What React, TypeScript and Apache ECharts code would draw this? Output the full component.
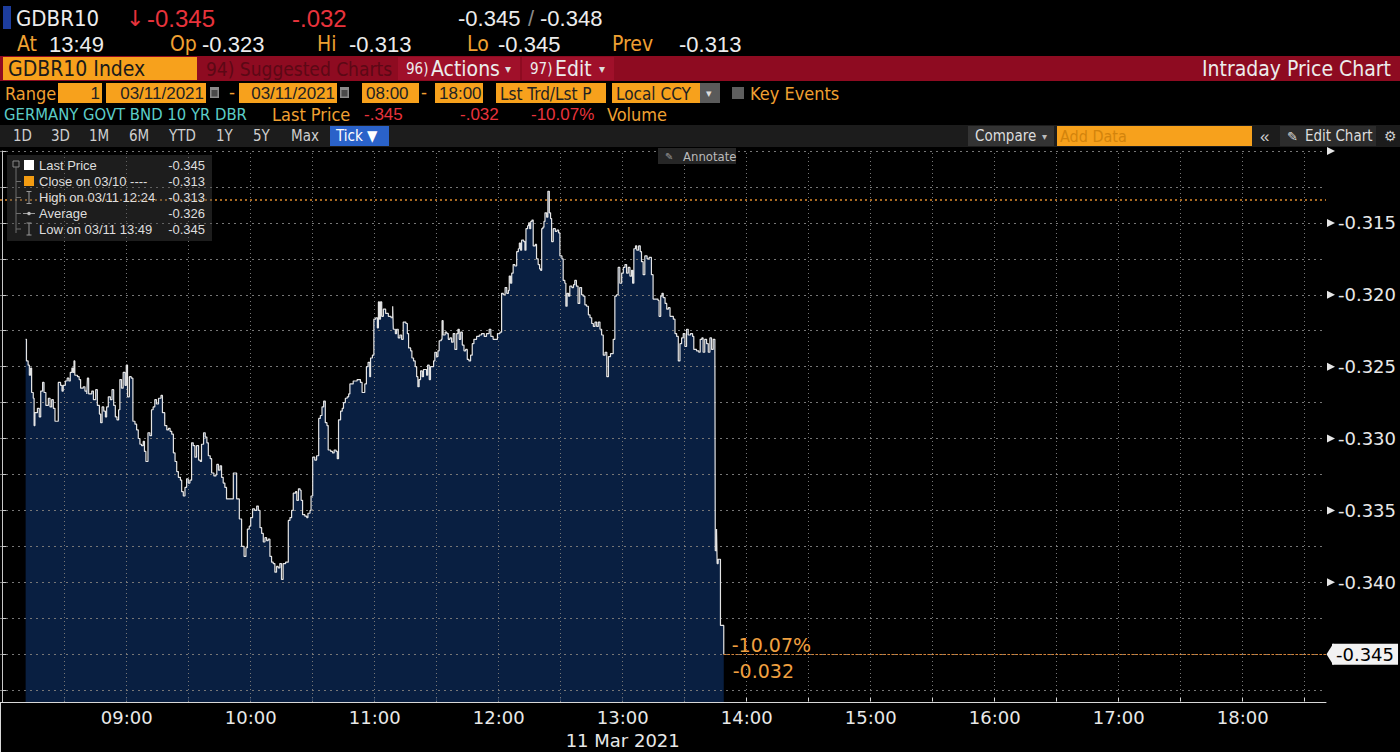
import React, { useEffect, useRef } from "react";
import * as echarts from "echarts";

// ---------- data ----------
const sessionDate = "11 Mar 2021";
// [minutes after 08:00, yield %]
const yieldTicks: [number, number][] = [
  [11.1,-0.3231],[11.5,-0.3246],[12.3,-0.3249],[12.9,-0.3256],[13.5,-0.3251],[14.0,-0.3268],[14.8,-0.3272],[15.2,-0.3291],[15.6,-0.3282],[16.8,-0.3279],
  [17.7,-0.3285],[18.4,-0.3267],[19.3,-0.3261],[20.0,-0.3268],[20.9,-0.3277],[22.1,-0.3272],[22.9,-0.3278],[23.7,-0.3273],[24.5,-0.3279],[25.3,-0.3288],
  [26.9,-0.3261],[28.0,-0.3263],[28.7,-0.3267],[29.3,-0.3263],[30.3,-0.3260],[31.2,-0.3258],[32.0,-0.3260],[32.7,-0.3254],[33.5,-0.3251],[34.0,-0.3254],
  [34.5,-0.3246],[34.9,-0.3256],[36.2,-0.3257],[37.0,-0.3259],[37.7,-0.3265],[39.0,-0.3264],[39.8,-0.3267],[40.7,-0.3269],[41.0,-0.3258],[41.6,-0.3269],
  [43.1,-0.3267],[43.9,-0.3273],[45.0,-0.3266],[45.8,-0.3277],[46.8,-0.3283],[47.4,-0.3289],[48.1,-0.3278],[48.9,-0.3281],[49.7,-0.3285],[50.3,-0.3278],
  [51.1,-0.3271],[52.1,-0.3273],[52.9,-0.3266],[53.7,-0.3277],[54.5,-0.3285],[55.3,-0.3287],[56.1,-0.3280],[56.7,-0.3259],[57.5,-0.3265],[58.3,-0.3254],
  [59.2,-0.3263],[59.8,-0.3249],[60.4,-0.3271],[61.3,-0.3257],[62.2,-0.3258],[63.0,-0.3288],[64.0,-0.3290],[64.8,-0.3294],[65.6,-0.3300],[66.4,-0.3304],
  [67.2,-0.3305],[68.0,-0.3302],[68.6,-0.3309],[69.3,-0.3316],[70.3,-0.3296],[71.2,-0.3298],[72.0,-0.3280],[72.8,-0.3278],[73.6,-0.3273],[74.4,-0.3276],
  [75.4,-0.3272],[76.6,-0.3270],[77.3,-0.3282],[78.4,-0.3291],[79.4,-0.3294],[80.2,-0.3293],[81.0,-0.3295],[81.8,-0.3297],[82.6,-0.3310],[83.4,-0.3316],
  [84.2,-0.3323],[85.0,-0.3327],[86.0,-0.3329],[86.6,-0.3337],[87.4,-0.3340],[88.2,-0.3334],[89.0,-0.3328],[89.8,-0.3331],[90.6,-0.3329],[91.4,-0.3303],
  [92.2,-0.3305],[93.0,-0.3313],[93.8,-0.3305],[94.8,-0.3315],[95.6,-0.3316],[96.2,-0.3304],[97.2,-0.3296],[98.0,-0.3299],[98.8,-0.3303],[99.5,-0.3312],
  [100.4,-0.3314],[101.1,-0.3324],[102.2,-0.3326],[103.2,-0.3325],[103.6,-0.3318],[104.4,-0.3322],[105.2,-0.3319],[105.9,-0.3327],[106.7,-0.3331],[107.5,-0.3334],
  [108.3,-0.3342],[111.6,-0.3324],[113.2,-0.3342],[114.5,-0.3356],[115.6,-0.3375],[116.8,-0.3382],[117.7,-0.3376],[118.4,-0.3363],[119.3,-0.3361],[120.0,-0.3355],
  [120.9,-0.3349],[121.9,-0.3350],[122.9,-0.3347],[123.7,-0.3350],[124.5,-0.3362],[125.3,-0.3366],[126.1,-0.3372],[126.9,-0.3369],[127.7,-0.3371],[128.5,-0.3370],
  [129.3,-0.3382],[130.1,-0.3386],[130.9,-0.3387],[131.7,-0.3393],[132.5,-0.3389],[133.3,-0.3390],[134.1,-0.3387],[134.9,-0.3398],[135.7,-0.3387],[136.9,-0.3386],
  [138.2,-0.3357],[139.0,-0.3355],[139.8,-0.3350],[140.6,-0.3338],[141.7,-0.3337],[142.3,-0.3343],[143.1,-0.3335],[143.9,-0.3336],[144.4,-0.3343],[145.1,-0.3353],
  [146.2,-0.3354],[147.1,-0.3355],[147.7,-0.3352],[148.7,-0.3350],[149.2,-0.3340],[150.0,-0.3313],[151.0,-0.3315],[151.9,-0.3312],[152.9,-0.3286],[153.7,-0.3284],
  [154.5,-0.3278],[155.3,-0.3274],[156.1,-0.3289],[156.9,-0.3291],[157.5,-0.3308],[158.7,-0.3309],[159.6,-0.3310],[160.4,-0.3308],[161.3,-0.3309],[161.9,-0.3314],
  [162.5,-0.3287],[163.5,-0.3281],[164.3,-0.3279],[164.9,-0.3275],[165.8,-0.3272],[166.7,-0.3271],[167.4,-0.3269],[168.0,-0.3262],[169.6,-0.3260],[171.5,-0.3259],
  [173.1,-0.3261],[173.9,-0.3268],[175.2,-0.3262],[176.0,-0.3250],[176.8,-0.3247],[177.6,-0.3257],[178.0,-0.3244],[178.9,-0.3242],[179.6,-0.3217],[180.5,-0.3216],
  [181.3,-0.3223],[181.8,-0.3205],[182.3,-0.3217],[182.8,-0.3205],[183.4,-0.3215],[184.2,-0.3210],[185.3,-0.3213],[186.6,-0.3215],[187.9,-0.3216],[188.7,-0.3208],
  [189.0,-0.3224],[190.0,-0.3227],[190.6,-0.3224],[191.4,-0.3230],[192.2,-0.3228],[193.0,-0.3231],[193.8,-0.3219],[195.1,-0.3220],[195.8,-0.3227],[196.4,-0.3237],
  [197.4,-0.3239],[198.0,-0.3244],[198.8,-0.3246],[199.6,-0.3250],[200.3,-0.3257],[200.9,-0.3264],[201.5,-0.3259],[202.2,-0.3253],[203.0,-0.3257],[203.6,-0.3252],
  [205.1,-0.3256],[205.6,-0.3249],[206.4,-0.3259],[207.0,-0.3250],[208.5,-0.3246],[209.1,-0.3240],[209.9,-0.3243],[210.6,-0.3239],[211.2,-0.3232],[212.2,-0.3231],
  [212.6,-0.3218],[213.1,-0.3228],[214.1,-0.3226],[214.9,-0.3227],[215.6,-0.3231],[216.4,-0.3230],[217.2,-0.3233],[218.0,-0.3227],[218.8,-0.3238],[219.7,-0.3227],
  [220.3,-0.3224],[220.9,-0.3231],[221.6,-0.3226],[222.4,-0.3235],[223.2,-0.3239],[224.0,-0.3238],[224.8,-0.3245],[225.6,-0.3246],[226.4,-0.3242],[227.2,-0.3234],
  [228.0,-0.3231],[229.3,-0.3229],[230.6,-0.3228],[231.7,-0.3227],[233.0,-0.3229],[234.1,-0.3227],[235.4,-0.3224],[236.2,-0.3229],[237.3,-0.3231],[239.4,-0.3227],
  [240.6,-0.3226],[241.4,-0.3199],[242.2,-0.3200],[243.1,-0.3195],[243.9,-0.3199],[244.7,-0.3197],[245.1,-0.3187],[245.7,-0.3192],[246.3,-0.3185],[247.0,-0.3179],
  [247.8,-0.3180],[248.7,-0.3170],[249.5,-0.3168],[250.0,-0.3164],[250.6,-0.3169],[251.1,-0.3162],[252.1,-0.3163],[252.7,-0.3169],[253.2,-0.3154],[254.0,-0.3152],
  [254.5,-0.3150],[255.0,-0.3154],[255.5,-0.3149],[256.1,-0.3148],[256.7,-0.3166],[257.7,-0.3165],[258.3,-0.3175],[259.1,-0.3179],[259.8,-0.3182],[260.3,-0.3183],
  [260.8,-0.3154],[261.4,-0.3153],[261.9,-0.3149],[262.4,-0.3143],[263.2,-0.3146],[263.8,-0.3128],[264.5,-0.3143],[265.1,-0.3147],[265.6,-0.3163],[266.4,-0.3154],
  [267.4,-0.3156],[268.2,-0.3155],[269.0,-0.3157],[269.6,-0.3173],[270.6,-0.3175],[271.2,-0.3190],[272.0,-0.3192],[272.5,-0.3208],[273.1,-0.3199],[273.8,-0.3201],
  [274.4,-0.3194],[275.4,-0.3195],[276.2,-0.3193],[276.8,-0.3190],[277.6,-0.3194],[278.4,-0.3206],[279.2,-0.3195],[280.1,-0.3200],[280.9,-0.3201],[281.7,-0.3207],
  [282.5,-0.3208],[283.4,-0.3214],[284.2,-0.3216],[285.0,-0.3220],[285.8,-0.3222],[286.6,-0.3219],[287.4,-0.3222],[288.2,-0.3219],[289.0,-0.3224],[289.8,-0.3228],
  [290.6,-0.3242],[291.5,-0.3240],[292.3,-0.3257],[293.1,-0.3243],[294.1,-0.3241],[295.4,-0.3231],[296.2,-0.3201],[297.0,-0.3200],[297.8,-0.3181],[298.6,-0.3192],
  [299.5,-0.3185],[300.3,-0.3181],[301.1,-0.3179],[301.9,-0.3185],[302.7,-0.3181],[303.5,-0.3187],[304.3,-0.3183],[304.8,-0.3192],[305.4,-0.3168],[306.2,-0.3166],
  [306.8,-0.3169],[307.7,-0.3166],[308.5,-0.3170],[309.1,-0.3177],[309.9,-0.3186],[310.7,-0.3173],[311.8,-0.3175],[312.8,-0.3174],[313.9,-0.3186],[314.7,-0.3203],
  [317.1,-0.3204],[317.6,-0.3215],[318.4,-0.3201],[319.0,-0.3199],[319.6,-0.3202],[320.5,-0.3206],[321.3,-0.3210],[322.1,-0.3209],[322.9,-0.3215],[324.5,-0.3217],
  [325.3,-0.3227],[326.1,-0.3229],[326.9,-0.3246],[327.7,-0.3234],[328.5,-0.3230],[329.3,-0.3227],[330.1,-0.3236],[330.9,-0.3224],[331.7,-0.3228],[332.8,-0.3227],
  [333.8,-0.3229],[334.4,-0.3238],[335.7,-0.3239],[336.8,-0.3240],[337.5,-0.3231],[338.3,-0.3230],[338.9,-0.3240],[339.7,-0.3231],[340.6,-0.3234],[341.4,-0.3240],
  [342.2,-0.3230],[343.0,-0.3238],[343.8,-0.3231],[344.6,-0.3234],[344.8,-0.3378],[345.4,-0.3363],[345.7,-0.3387],[346.2,-0.3384],[347.3,-0.3430],[348.9,-0.3450],
];
const prevClose = -0.3134;
const lastPrice = -0.345;
const netChangeText = "-0.032";
const pctChangeText = "-10.07%";
const xTickTimes = ["08:30","09:00","09:30","10:00","10:30","11:00","11:30","12:00","12:30","13:00","13:30","14:00","14:30","15:00","15:30","16:00","16:30","17:00","17:30","18:00","18:30"];
const xLabelTimes = ["09:00","10:00","11:00","12:00","13:00","14:00","15:00","16:00","17:00","18:00"];
const dateUnderTime = "13:00";
const yTickValues = [-0.3475,-0.345,-0.3425,-0.34,-0.3375,-0.335,-0.3325,-0.33,-0.3275,-0.325,-0.3225,-0.32,-0.3175,-0.315,-0.3125,-0.31];
const yLabelValues = [-0.34,-0.335,-0.33,-0.325,-0.32,-0.315];
const yMarkerValues = [-0.34,-0.335,-0.33,-0.325,-0.32,-0.315,-0.31];
const legendLabels = ["Last Price","Close on 03/10 ----","High on 03/11 12:24","Average","Low on 03/11 13:49"];
const legendValues = ["-0.345","-0.313","-0.313","-0.326","-0.345"];

const X_MIN = -1.3;
const X_MAX = 640.3;
const Y_MIN = -0.34833;
const Y_MAX = -0.31;

// ---------- styling ----------
const FN = "'Liberation Sans Narrow','DejaVu Sans Condensed','Liberation Sans',sans-serif";
const FD = "'Liberation Sans',Arial,sans-serif";
const FA = "'DejaVu Sans',sans-serif";
const ORANGE = "#f0a032";
const BOX = "#f7a11c";
const RED = "#e8333c";
const WHITE = "#ececec";
const TEAL = "#5ccdc8";
const GRID = "#767676";

const toMin = (t: string) => {
  const [h, m] = t.split(":").map(Number);
  return (h - 8) * 60 + m;
};
const toTime = (v: number) => {
  const tot = Math.round(v) + 480;
  const h = Math.floor(tot / 60);
  const m = tot % 60;
  return `${String(h).padStart(2, "0")}:${String(m).padStart(2, "0")}`;
};

const txt = (x: number, y: number, text: string, fill: string, size: number, font = FN, align = "left") => ({
  type: "text",
  x,
  y,
  silent: true,
  z: 100,
  style: { text, fill, fontSize: size, fontFamily: font, align, verticalAlign: "middle" },
});
const rect = (x: number, y: number, w: number, h: number, fill: string, stroke?: string) => ({
  type: "rect",
  silent: true,
  z: 90,
  shape: { x, y, width: w, height: h },
  style: stroke ? { fill, stroke, lineWidth: 1 } : { fill },
});
const line = (x1: number, y1: number, x2: number, y2: number, stroke: string, w = 1) => ({
  type: "line",
  silent: true,
  z: 95,
  shape: { x1, y1, x2, y2 },
  style: { stroke, lineWidth: w },
});

function headerGraphics() {
  const g: any[] = [];
  // row 1
  g.push(rect(3, 6, 8, 23, "#1d3d9e"));
  g.push(txt(16, 18, "GDBR10", WHITE, 22));
  g.push(txt(126, 18, "↓", RED, 22, FA));
  g.push(txt(147, 18, "-0.345", RED, 24, FD));
  g.push(txt(292, 18, "-.032", RED, 24, FD));
  g.push(txt(458, 18, "-0.345", WHITE, 22, FD));
  g.push(txt(528, 18, "/", "#8a8a8a", 22, FD));
  g.push(txt(540, 18, "-0.348", WHITE, 22, FD));
  // row 2
  const r2: [number, string, string][] = [
    [17, "At", ORANGE], [49, "13:49", WHITE], [170, "Op", ORANGE], [202, "-0.323", WHITE],
    [317, "Hi", ORANGE], [349, "-0.313", WHITE], [467, "Lo", ORANGE], [498, "-0.345", WHITE],
    [612, "Prev", ORANGE], [679, "-0.313", WHITE],
  ];
  r2.forEach(([x, t, c]) => g.push(txt(x, 44, t, c, c === ORANGE ? 21 : 22, c === ORANGE ? FN : FD)));
  // row 3 (red bar)
  g.push(rect(0, 56, 1400, 25, "#8e0b21"));
  g.push(rect(3, 57, 194, 23, BOX));
  g.push(txt(8, 69, "GDBR10 Index", "#1a1a1a", 21));
  g.push(txt(206, 69, "94) Suggested Charts", "#5c0815", 19));
  g.push(rect(398, 57, 122, 23, "#a0102a"));
  g.push(txt(406, 69, "96)", WHITE, 15));
  g.push(txt(431, 69, "Actions", WHITE, 21));
  g.push(txt(505, 69, "▾", "#dddddd", 12, FA));
  g.push(rect(522, 57, 92, 23, "#a0102a"));
  g.push(txt(530, 69, "97)", WHITE, 15));
  g.push(txt(555, 69, "Edit", WHITE, 21));
  g.push(txt(599, 69, "▾", "#dddddd", 12, FA));
  g.push(txt(1391, 69, "Intraday Price Chart", WHITE, 21, FN, "right"));
  // row 4
  g.push(txt(5, 93, "Range", ORANGE, 18));
  const boxes: [number, number, string, "left" | "right"][] = [
    [58, 44, "1", "right"], [106, 100, "03/11/2021", "right"], [239, 98, "03/11/2021", "right"],
    [362, 57, "08:00", "left"], [435, 48, "18:00", "left"], [496, 110, "Lst Trd/Lst P", "left"],
    [612, 88, "Local CCY", "left"],
  ];
  boxes.forEach(([x, w, t, a]) => {
    g.push(rect(x, 83, w, 20, BOX));
    g.push(txt(a === "right" ? x + w - 2 : x + 4, 93.5, t, "#222222", 17, t.match(/^[0-9/:]+$/) ? FD : FN, a));
  });
  [210, 340].forEach((x) => {
    g.push(rect(x, 87, 9, 11, "#8a8a8a"));
    g.push(rect(x + 1.5, 90, 6, 6.5, "#4a4a4a"));
  });
  g.push(txt(229, 93, "-", ORANGE, 18, FD));
  g.push(txt(421, 93, "-", ORANGE, 18, FD));
  g.push(rect(700, 83, 20, 20, "#5a5a5a"));
  g.push(txt(706, 93, "▾", "#dddddd", 11, FA));
  g.push(rect(732, 87, 12, 12, "#5e5e5e"));
  g.push(txt(750, 93, "Key Events", ORANGE, 18));
  // row 5
  g.push(txt(4, 114, "GERMANY GOVT BND 10 YR DBR", TEAL, 16.5));
  g.push(txt(272, 114, "Last Price", ORANGE, 18));
  g.push(txt(364, 114, "-.345", RED, 17, FD));
  g.push(txt(460, 114, "-.032", RED, 17, FD));
  g.push(txt(531, 114, "-10.07%", RED, 17, FD));
  g.push(txt(607, 114, "Volume", ORANGE, 18));
  // row 6 (tool bar)
  g.push(rect(0, 125, 1400, 22, "#1c1c1c"));
  const btns: [number, string][] = [[13, "1D"], [51, "3D"], [89, "1M"], [129, "6M"], [169, "YTD"], [216, "1Y"], [253, "5Y"], [291, "Max"]];
  btns.forEach(([x, t]) => g.push(txt(x, 136, t, "#cfcfcf", 15)));
  g.push(rect(330, 126, 59, 20, "#2a62c9"));
  g.push(txt(336, 136, "Tick ▼", "#ffffff", 15));
  g.push(rect(968, 126, 86, 20, "#333333"));
  g.push(txt(975, 136, "Compare", "#dddddd", 15));
  g.push(txt(1042, 136, "▾", "#bbbbbb", 10, FA));
  g.push(rect(1057, 126, 195, 20, BOX));
  g.push(txt(1060, 136, "Add Data", "#d3840c", 16));
  g.push(txt(1260, 136, "«", "#cccccc", 17, FD));
  g.push(rect(1280, 126, 96, 20, "#2c2c2c"));
  g.push(txt(1287, 136, "✎", "#dddddd", 13, FA));
  g.push(txt(1305, 136, "Edit Chart", "#dddddd", 15));
  g.push(txt(1384, 136, "⚙", "#cccccc", 14, FA));
  // annotate button
  g.push(rect(658, 148, 78, 16, "#262626"));
  g.push(txt(665, 156, "✎", "#999999", 10, FA));
  g.push(txt(683, 156, "Annotate", "#bbbbbb", 13));
  return g;
}

function legendGraphics() {
  const g: any[] = [];
  g.push({ ...rect(7, 155, 205, 86, "rgba(70,70,70,0.42)"), z: 80 });
  const ys = [165.5, 181.5, 197.5, 213.5, 229];
  g.push({ type: "rect", silent: true, z: 95, shape: { x: 13, y: 161, width: 6, height: 6 }, style: { fill: "none", stroke: "#888", lineWidth: 1 } });
  g.push(line(16, 167, 16, 233, "#6f6f6f"));
  ys.slice(1).forEach((y) => g.push(line(16, y, 21, y, "#6f6f6f")));
  g.push(rect(24, 160, 10, 10, "#ffffff"));
  g.push(rect(24, 176, 10, 10, "#f39c12"));
  [ys[2], ys[4]].forEach((y) => {
    g.push(line(29, y - 6, 29, y + 6, "#9a9a9a"));
    g.push(line(26.5, y - 6, 31.5, y - 6, "#9a9a9a"));
    g.push(line(26.5, y + 6, 31.5, y + 6, "#9a9a9a"));
  });
  g.push(line(23, ys[3], 35, ys[3], "#9a9a9a"));
  g.push({ type: "circle", silent: true, z: 96, shape: { cx: 29, cy: ys[3], r: 1.8 }, style: { fill: "#bbbbbb" } });
  legendLabels.forEach((l, i) => g.push(txt(39, ys[i], l, "#dedede", 13, FD)));
  legendValues.forEach((v, i) => g.push(txt(205, ys[i], v, "#dedede", 13, FD, "right")));
  return g;
}

export default function App() {
  const ref = useRef<HTMLDivElement>(null);
  useEffect(() => {
    if (!ref.current) return;
    const chart = echarts.init(ref.current, null, { renderer: "svg" });
    const lastMin = yieldTicks[yieldTicks.length - 1][0];
    const lastStyle = { color: "#d4843a", type: [2, 2], width: 1 };
    const seg = (label: any) => [
      { coord: [lastMin, lastPrice], label, lineStyle: lastStyle },
      { coord: [X_MAX, lastPrice] },
    ];
    const gridLines = [
      ...yTickValues.map((v) => ({ yAxis: v, lineStyle: { color: GRID, type: [2, 4], width: 1 } })),
      ...xTickTimes.map((t) => ({ xAxis: toMin(t), lineStyle: { color: GRID, type: [1, 3], width: 1 } })),
    ];
    const option: any = {
      animation: false,
      backgroundColor: "#000000",
      textStyle: { fontFamily: FA },
      grid: { left: 0, right: 74, top: 151, bottom: 49, containLabel: false },
      xAxis: {
        type: "value",
        min: X_MIN,
        max: X_MAX,
        axisLine: { show: true, onZero: false, lineStyle: { color: "#d8d8d8", width: 1 } },
        axisTick: { show: true, inside: true, length: 5, customValues: xTickTimes.map(toMin), lineStyle: { color: "#d8d8d8" } },
        axisLabel: {
          show: true,
          customValues: xLabelTimes.map(toMin),
          color: "#e8e8e8",
          fontSize: 18,
          fontFamily: FA,
          lineHeight: 23,
          margin: 4,
          formatter: (v: number) => {
            const t = toTime(v);
            return t === dateUnderTime ? `${t}\n${sessionDate}` : t;
          },
        },
        splitLine: { show: false },
      },
      yAxis: {
        type: "value",
        position: "right",
        min: Y_MIN,
        max: Y_MAX,
        axisLine: { show: true, lineStyle: { color: "#c8c8c8", width: 1 } },
        axisTick: { show: true, inside: false, length: 4, customValues: yTickValues, lineStyle: { color: "#c8c8c8" } },
        axisLabel: {
          show: true,
          customValues: yLabelValues,
          margin: 12,
          color: "#e8e8e8",
          fontSize: 18,
          fontFamily: FA,
          formatter: (v: number) => v.toFixed(3),
        },
        splitLine: { show: false },
      },
      series: [
        {
          name: "area",
          type: "line",
          step: "end",
          data: yieldTicks,
          z: 1,
          symbol: "none",
          showSymbol: false,
          silent: true,
          lineStyle: { width: 0, opacity: 0 },
          areaStyle: { origin: "start", color: "rgb(10,36,76)", opacity: 0.85 },
          markLine: {
            silent: true,
            animation: false,
            z: 2,
            symbol: ["none", "none"],
            precision: 5,
            label: { show: false },
            data: gridLines,
          },
        },
        {
          name: "Last Price",
          type: "line",
          step: "end",
          data: yieldTicks,
          z: 3,
          clip: false,
          symbol: "none",
          showSymbol: false,
          lineStyle: { color: "#e4e4e4", width: 1.2 },
          markLine: {
            silent: true,
            animation: false,
            z: 4,
            symbol: ["none", "none"],
            precision: 5,
            data: [
              { yAxis: prevClose, lineStyle: { color: "#e08c2e", type: [2, 3], width: 1.6 }, label: { show: false } },
              seg({ show: true, position: "insideStartTop", formatter: pctChangeText, color: "#f0a040", fontSize: 19, fontFamily: FA, distance: 0, padding: [0, 0, 0, 8] }),
              seg({ show: true, position: "insideStartBottom", formatter: netChangeText, color: "#f0a040", fontSize: 19, fontFamily: FA, distance: 7, padding: [0, 0, 0, 2] }),
              seg({
                show: true,
                position: "end",
                formatter: lastPrice.toFixed(3),
                color: "#000000",
                backgroundColor: "#f2f2f2",
                padding: [2, 4, 1, 4],
                fontSize: 18,
                fontFamily: FA,
                distance: 6,
              }),
            ],
          },
          markPoint: {
            silent: true,
            animation: false,
            label: { show: false },
            data: [
              ...yMarkerValues.map((v) => ({
                coord: [X_MAX, v],
                symbol: "path://M0,0L10,5L0,10Z",
                symbolSize: [8, 8],
                symbolOffset: [5, 0],
                itemStyle: { color: "#e6e6e6" },
              })),
              {
                coord: [X_MAX, lastPrice],
                symbol: "path://M10,0L0,5L10,10Z",
                symbolSize: [7, 22],
                symbolOffset: [4, 0],
                itemStyle: { color: "#f2f2f2" },
              },
            ],
          },
        },
      ],
      graphic: [
        ...headerGraphics(),
        ...legendGraphics(),
        line(0.5, 703, 0.5, 752, "#d8d8d8"),
      ],
    };
    chart.setOption(option);
    return () => chart.dispose();
  }, []);
  return (
    <div
      ref={ref}
      style={{ position: "fixed", left: 0, top: 0, width: 1400, height: 752, background: "#000" }}
    />
  );
}
